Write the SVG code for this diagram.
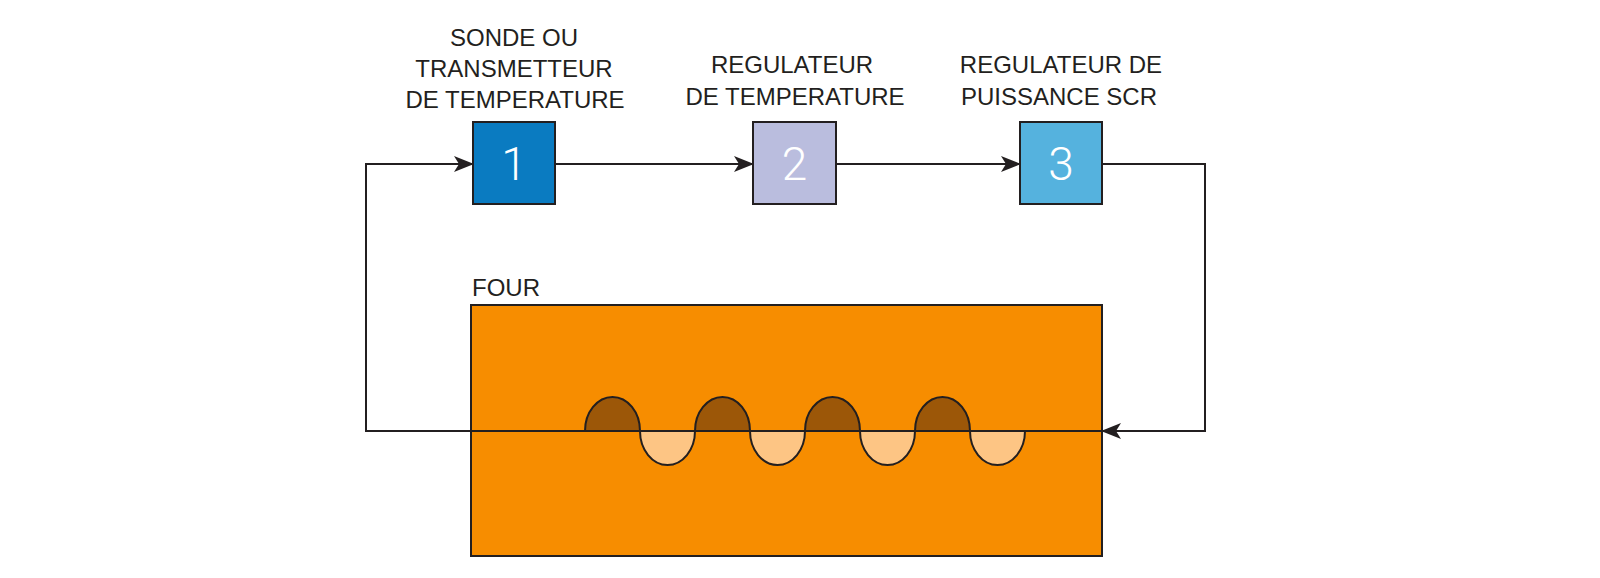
<svg xmlns="http://www.w3.org/2000/svg" width="1600" height="578" viewBox="0 0 1600 578">
<defs>
<style>
.lbl{font-family:"Liberation Sans",Arial,sans-serif;font-size:24px;fill:#231f20;text-anchor:middle}
.num{font-family:Roboto,"Liberation Sans",Arial,sans-serif;font-weight:300;font-size:46px;fill:#ffffff;text-anchor:middle}
.box{stroke:#231f20;stroke-width:2}
.ln{fill:none;stroke:#231f20;stroke-width:2}
.dark{fill:#9c5708;stroke:#231f20;stroke-width:2}
.light{fill:#fdc584;stroke:#231f20;stroke-width:2}
</style>
<marker id="arr" viewBox="0 0 20 16" refX="19" refY="8" markerWidth="20" markerHeight="16" markerUnits="userSpaceOnUse" orient="auto">
<path d="M0,0 L20,8 L0,16 L5,8 Z" fill="#231f20"/>
</marker>
</defs>
<rect width="1600" height="578" fill="#ffffff"/>
<g id="four">
<text class="lbl" x="472" y="296" style="text-anchor:start">FOUR</text>
<rect class="box" x="471" y="305" width="631" height="251" fill="#f78d00"/>
</g>
<g id="element">
<path class="dark" d="M585,431 A27.5,34 0 0 1 640,431 Z"/>
<path class="dark" d="M695,431 A27.5,34 0 0 1 750,431 Z"/>
<path class="dark" d="M805,431 A27.5,34 0 0 1 860,431 Z"/>
<path class="dark" d="M915,431 A27.5,34 0 0 1 970,431 Z"/>
<path class="light" d="M640,431 A27.5,34 0 0 0 695,431 Z"/>
<path class="light" d="M750,431 A27.5,34 0 0 0 805,431 Z"/>
<path class="light" d="M860,431 A27.5,34 0 0 0 915,431 Z"/>
<path class="light" d="M970,431 A27.5,34 0 0 0 1025,431 Z"/>
</g>
<g id="connectors">
<path class="ln" d="M1102,431 H366 V164 H473" marker-end="url(#arr)"/>
<path class="ln" d="M555,164 H753" marker-end="url(#arr)"/>
<path class="ln" d="M836,164 H1020" marker-end="url(#arr)"/>
<path class="ln" d="M1102,164 H1205 V431 H1102" marker-end="url(#arr)"/>
</g>
<g id="node1">
<text class="lbl" x="514" y="46">SONDE OU</text>
<text class="lbl" x="514" y="77">TRANSMETTEUR</text>
<text class="lbl" x="515" y="108">DE TEMPERATURE</text>
<rect class="box" x="473" y="122" width="82" height="82" fill="#0a7bc1"/>
<text class="num" x="514" y="180">1</text>
</g>
<g id="node2">
<text class="lbl" x="792" y="73">REGULATEUR</text>
<text class="lbl" x="795" y="105">DE TEMPERATURE</text>
<rect class="box" x="753" y="122" width="83" height="82" fill="#babdde"/>
<text class="num" x="794.5" y="180">2</text>
</g>
<g id="node3">
<text class="lbl" x="1061" y="73">REGULATEUR DE</text>
<text class="lbl" x="1059" y="105">PUISSANCE SCR</text>
<rect class="box" x="1020" y="122" width="82" height="82" fill="#55b2de"/>
<text class="num" x="1061" y="180">3</text>
</g>
</svg>
